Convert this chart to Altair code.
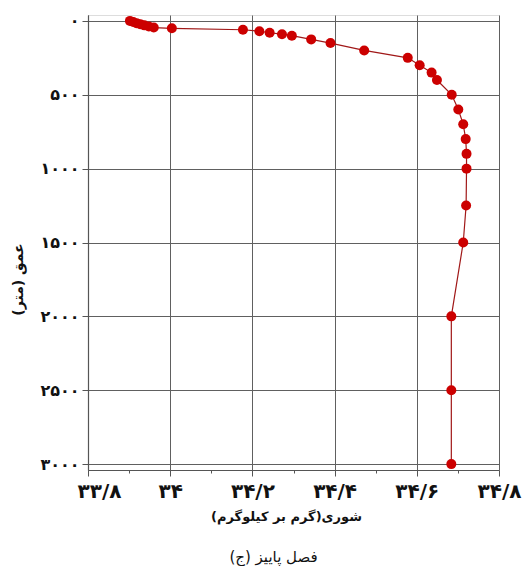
import altair as alt
import pandas as pd

# ---- data ----
depth = [0, 7, 15, 22, 30, 38, 45, 50, 60, 70, 80, 90, 100, 125, 150, 200, 250,
         300, 350, 400, 500, 600, 700, 800, 900, 1000, 1250, 1500, 2000, 2500, 3000]
salinity = [33.902, 33.910, 33.918, 33.927, 33.937, 33.948, 33.960, 34.004, 34.177,
            34.217, 34.242, 34.272, 34.296, 34.343, 34.390, 34.472, 34.578, 34.607,
            34.636, 34.649, 34.685, 34.701, 34.713, 34.719, 34.721, 34.721, 34.720,
            34.713, 34.684, 34.684, 34.684]

x_tick_values = [33.8, 33.9, 34.0, 34.1, 34.2, 34.3, 34.4, 34.5, 34.6, 34.7, 34.8]
x_major_keys = [338, 340, 342, 344, 346, 348]
x_major_labels = ["۳۳/۸", "۳۴", "۳۴/۲", "۳۴/۴", "۳۴/۶", "۳۴/۸"]

y_tick_values = [0, 250, 500, 750, 1000, 1250, 1500, 1750, 2000, 2250, 2500, 2750, 3000]
y_major_keys = [0, 500, 1000, 1500, 2000, 2500, 3000]
y_major_labels = ["۰", "۵۰۰", "۱۰۰۰", "۱۵۰۰", "۲۰۰۰", "۲۵۰۰", "۳۰۰۰"]

x_title = "شوری(گرم بر کیلوگرم)"
y_title = "عمق (متر)"
caption = "(ج) فصل پاییز"

df = pd.DataFrame({"depth": depth, "salinity": salinity})


def label_expr(keys, labels, key_expr):
    expr = "''"
    for k, lab in reversed(list(zip(keys, labels))):
        expr = f"({key_expr} == {k} ? '{lab}' : {expr})"
    return expr


x_lab = label_expr(x_major_keys, x_major_labels, "round(datum.value*10)")
y_lab = label_expr(y_major_keys, y_major_labels, "round(datum.value)")

x_minor = "round(datum.value*10) % 2 == 1"
y_minor = "round(datum.value) % 500 != 0"

FONT = "DejaVu Sans"
GRID = "#606060"
AXIS = "#555555"

x_enc = alt.X(
    "salinity:Q",
    scale=alt.Scale(domain=[33.8, 34.8], nice=False, zero=False),
    axis=alt.Axis(
        values=x_tick_values,
        labelExpr=x_lab,
        title=x_title,
        titleFont=FONT, titleFontSize=13, titleFontWeight="bold", titleColor="#111",
        titleX=198, titleY=46, titleBaseline="middle", titleAlign="center",
        labelFont=FONT, labelFontSize=20, labelFontWeight="bold", labelColor="#111",
        labelPadding=5, labelFlush=False, labelOverlap=False,
        labelOffset={"condition": {"test": "round(datum.value*10) == 338", "value": 11}, "value": 0},
        tickSize={"condition": {"test": x_minor, "value": 3}, "value": 6},
        tickColor=AXIS, domainColor=AXIS, domainWidth=1.2,
        grid=True, gridColor=GRID, gridWidth=1,
        gridOpacity={"condition": {"test": x_minor, "value": 0}, "value": 1},
    ),
)

y_enc = alt.Y(
    "depth:Q",
    scale=alt.Scale(domain=[-40, 3040], nice=False, zero=False, reverse=True),
    axis=alt.Axis(
        values=y_tick_values,
        labelExpr=y_lab,
        title=y_title,
        titleFont=FONT, titleFontSize=14, titleFontWeight="bold", titleColor="#111",
        titleX=-70, titleY=264, titleBaseline="middle", titleAlign="center", titleAngle=270,
        labelFont=FONT, labelFontSize=16, labelFontWeight="bold", labelColor="#111",
        labelPadding=3, labelOverlap=False, labelFlush=False,
        tickSize={"condition": {"test": y_minor, "value": 4}, "value": 6},
        tickColor=AXIS, domainColor=AXIS, domainWidth=1.2,
        grid=True, gridColor=GRID, gridWidth=1,
        gridOpacity={"condition": {"test": y_minor, "value": 0}, "value": 1},
    ),
)

line = alt.Chart(df).mark_line(color="#a01818", strokeWidth=1.2).encode(
    x=x_enc, y=y_enc, order="depth:Q"
)
points = alt.Chart(df).mark_point(
    filled=True, color="#cc0000", size=100, opacity=1
).encode(x="salinity:Q", y="depth:Q")

chart = (
    alt.layer(line, points)
    .properties(
        width=411,
        height=455,
        autosize=alt.AutoSizeParams(type="none"),
        padding={"left": 88, "top": 15, "right": 29, "bottom": 96},
        title=alt.TitleParams(
            text=caption, orient="bottom", anchor="middle",
            font=FONT, fontSize=15, fontWeight="normal", color="#111",
            offset=27, dx=-20,
        ),
    )
    .configure_view(stroke=AXIS, strokeWidth=1.2)
    .configure(background="white")
)

chart.save("out.html", embed_options={"renderer": "svg", "actions": False})
